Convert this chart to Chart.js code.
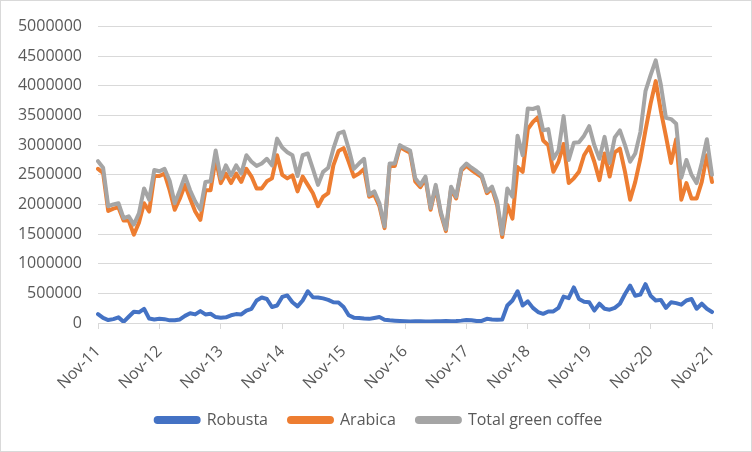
<!DOCTYPE html>
<html>
<head>
<meta charset="utf-8">
<script src="https://cdn.jsdelivr.net/npm/chart.js@4.4.0/dist/chart.umd.min.js"></script>
<style>
  html, body { margin: 0; padding: 0; background: #fff; }
  #box { width: 752px; height: 452px; box-sizing: border-box; border: 1px solid #d9d9d9; background: #fff; }
  canvas { display: block; }
</style>
</head>
<body>
<div id="box"><canvas id="coffeeChart" width="750" height="450"></canvas></div>
<script>
( function () {
    "use strict";

var monthNames = ['Jan','Feb','Mar','Apr','May','Jun','Jul','Aug','Sep','Oct','Nov','Dec'];
var tickLabels = ['Nov-11','Nov-12','Nov-13','Nov-14','Nov-15','Nov-16','Nov-17','Nov-18','Nov-19','Nov-20','Nov-21'];

// monthly, Nov-11 .. Nov-21 (one row = Nov..Oct)
var robusta = [
  150000, 85000, 50000, 65000, 95000, 20000, 105000, 190000, 180000, 240000, 75000, 60000,
  70000, 65000, 45000, 45000, 60000, 120000, 165000, 145000, 200000, 145000, 155000, 100000,
  90000, 95000, 130000, 150000, 145000, 210000, 240000, 380000, 430000, 405000, 270000, 295000,
  440000, 465000, 350000, 280000, 380000, 535000, 435000, 430000, 415000, 390000, 350000, 345000,
  270000, 130000, 90000, 85000, 75000, 70000, 85000, 100000, 55000, 45000, 40000, 35000,
  30000, 25000, 28000, 30000, 25000, 25000, 28000, 30000, 35000, 30000, 33000, 40000,
  50000, 45000, 33000, 35000, 70000, 60000, 55000, 60000, 295000, 380000, 535000, 295000,
  365000, 255000, 185000, 155000, 195000, 195000, 255000, 445000, 420000, 600000, 405000, 360000,
  350000, 210000, 325000, 240000, 225000, 255000, 325000, 490000, 630000, 460000, 480000, 655000,
  460000, 380000, 390000, 255000, 350000, 335000, 310000, 380000, 405000, 240000, 325000, 240000,
  185000
];
var arabica = [
  2600000, 2530000, 1890000, 1930000, 1950000, 1730000, 1730000, 1490000, 1690000, 2020000, 1880000, 2480000,
  2480000, 2520000, 2240000, 1910000, 2100000, 2330000, 2100000, 1880000, 1740000, 2240000, 2240000, 2770000,
  2360000, 2520000, 2360000, 2520000, 2380000, 2600000, 2470000, 2270000, 2270000, 2390000, 2440000, 2830000,
  2500000, 2440000, 2490000, 2220000, 2470000, 2330000, 2190000, 1970000, 2130000, 2190000, 2660000, 2900000,
  2950000, 2720000, 2470000, 2520000, 2600000, 2130000, 2160000, 1970000, 1600000, 2650000, 2650000, 2970000,
  2920000, 2870000, 2390000, 2290000, 2430000, 1910000, 2290000, 1840000, 1550000, 2260000, 2100000, 2570000,
  2650000, 2580000, 2520000, 2460000, 2190000, 2270000, 1990000, 1450000, 1990000, 1760000, 2630000, 2550000,
  3270000, 3390000, 3470000, 3080000, 3000000, 2550000, 2720000, 3020000, 2360000, 2440000, 2550000, 2830000,
  2970000, 2720000, 2410000, 2860000, 2470000, 2880000, 2940000, 2550000, 2080000, 2380000, 2770000, 3250000,
  3700000, 4080000, 3580000, 3150000, 2700000, 3100000, 2080000, 2360000, 2100000, 2100000, 2380000, 2830000,
  2380000
];
var totalGreen = [
  2730000, 2620000, 1970000, 2000000, 2020000, 1770000, 1800000, 1660000, 1850000, 2270000, 2080000, 2580000,
  2560000, 2600000, 2400000, 2020000, 2240000, 2480000, 2240000, 2050000, 1910000, 2380000, 2390000, 2910000,
  2440000, 2660000, 2490000, 2660000, 2520000, 2830000, 2720000, 2650000, 2690000, 2770000, 2660000, 3110000,
  2960000, 2880000, 2830000, 2480000, 2830000, 2860000, 2600000, 2330000, 2550000, 2620000, 2940000, 3200000,
  3230000, 2940000, 2600000, 2690000, 2770000, 2160000, 2220000, 2020000, 1630000, 2690000, 2690000, 3000000,
  2950000, 2910000, 2440000, 2330000, 2470000, 1940000, 2330000, 1870000, 1580000, 2300000, 2130000, 2600000,
  2690000, 2620000, 2560000, 2490000, 2220000, 2300000, 2050000, 1500000, 2270000, 2130000, 3160000, 2830000,
  3620000, 3610000, 3640000, 3250000, 3270000, 2770000, 2910000, 3490000, 2750000, 3040000, 3050000, 3160000,
  3320000, 3000000, 2770000, 3140000, 2700000, 3130000, 3250000, 3000000, 2720000, 2860000, 3220000, 3910000,
  4180000, 4430000, 4020000, 3460000, 3440000, 3360000, 2450000, 2750000, 2500000, 2360000, 2700000, 3100000,
  2500000
];

var categories = [];
for (var i = 0; i < robusta.length; i++) {
    categories.push(monthNames[(10 + i) % 12] + '-' + (11 + Math.floor((10 + i) / 12)));
}

var textColor = '#595959';
var gridColor = '#d9d9d9';
Chart.defaults.font.family = "'Open Sans', 'DejaVu Sans', sans-serif";
Chart.defaults.font.size = 16;
Chart.defaults.color = textColor;

function lineSet(label, data, color, order) {
    return {
        label: label,
        data: data,
        borderColor: color,
        backgroundColor: color,
        borderWidth: 4,
        pointRadius: 0,
        pointHoverRadius: 0,
        tension: 0,
        borderJoinStyle: 'round',
        borderCapStyle: 'round',
        order: order
    };
}

var ctx = document.getElementById('coffeeChart');
var myChart = new Chart(ctx, {
    type: 'line',
    data: {
        labels: categories,
        datasets: [
            lineSet('Robusta', robusta, '#4472c4', 3),
            lineSet('Arabica', arabica, '#ed7d31', 2),
            lineSet('Total green coffee', totalGreen, '#a5a5a5', 1)
        ]
    },
    options: {
        responsive: false,
        devicePixelRatio: 1,
        animation: false,
        layout: { padding: { left: 14, right: 8, top: 22, bottom: 13 } },
        plugins: {
            tooltip: { enabled: false },
            legend: {
                position: 'bottom',
                labels: {
                    boxWidth: 43,
                    boxHeight: 4,
                    padding: 21,
                    useBorderRadius: true,
                    borderRadius: 2,
                    color: textColor,
                    sort: function (a, b) { return a.datasetIndex - b.datasetIndex; }
                }
            }
        },
        scales: {
            x: {
                offset: false,
                afterFit: function (scale) { scale.height = 68; },
                border: { color: gridColor, width: 1 },
                grid: {
                    drawOnChartArea: false,
                    tickLength: 6,
                    color: function (c) { return c.index % 12 === 0 ? gridColor : 'rgba(0,0,0,0)'; }
                },
                ticks: {
                    autoSkip: false,
                    maxRotation: 45,
                    minRotation: 45,
                    padding: 13,
                    callback: function (value, index) {
                        return index % 12 === 0 ? tickLabels[index / 12] : '';
                    }
                }
            },
            y: {
                min: 0,
                max: 5000000,
                afterFit: function (scale) { scale.width = 83; },
                border: { display: false },
                grid: { color: gridColor, drawTicks: false },
                ticks: {
                    stepSize: 500000,
                    padding: 16,
                    callback: function (value) { return String(value); }
                }
            },
            // empty spacer on the right so the plot ends where Excel's does
            spacer: {
                type: 'linear',
                position: 'right',
                afterFit: function (scale) { scale.width = 31; },
                border: { display: false },
                grid: { display: false },
                ticks: { display: false }
            }
        }
    }
});

} )();
</script>
</body>
</html>
